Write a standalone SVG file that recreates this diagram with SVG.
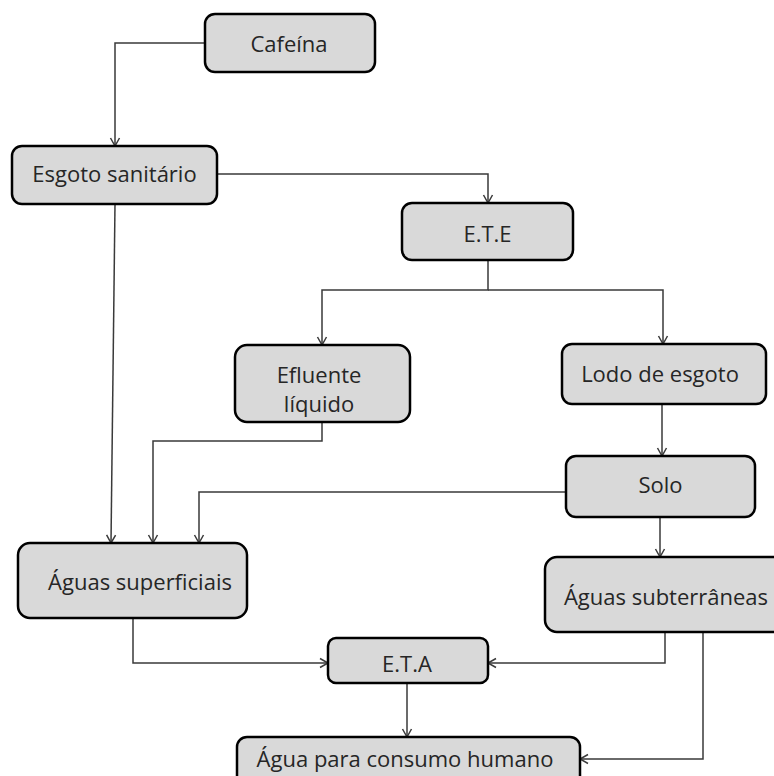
<svg xmlns="http://www.w3.org/2000/svg" width="774" height="776" viewBox="0 0 774 776">
<defs>
<marker id="arr" markerUnits="userSpaceOnUse" markerWidth="12" markerHeight="12" viewBox="0 0 12 12" refX="10" refY="6" orient="auto">
<path d="M2,1.5 L10,6 L2,10.5" fill="none" stroke="#3a3a3a" stroke-width="1.5"/>
</marker>
<style>
.box{fill:#d9d9d9;stroke:#000;stroke-width:2.5}
.lbl{font-family:"Open Sans","Noto Sans",sans-serif;font-size:22px;fill:#262626;text-anchor:middle}
.con{fill:none;stroke:#3a3a3a;stroke-width:1.5;marker-end:url(#arr)}
.con0{fill:none;stroke:#3a3a3a;stroke-width:1.5}
</style>
</defs>
<rect width="774" height="776" fill="#fff"/>
<g id="connectors">
<path class="con" d="M205,43 H115 V146"/>
<path class="con" d="M217,174 H488 V203"/>
<path class="con" d="M488,260 V290 H322 V345"/>
<path class="con" d="M488,290 H663 V344"/>
<path class="con" d="M115,204 L111,543"/>
<path class="con" d="M322,422 V441 H153 V543"/>
<path class="con" d="M662,404 V456"/>
<path class="con" d="M566,492 H199 V543"/>
<path class="con" d="M660,517 V557"/>
<path class="con" d="M133,618 V663 H328"/>
<path class="con" d="M665,632 V663 H488"/>
<path class="con" d="M407,683 V737"/>
<path class="con" d="M703,632 V759 H580"/>
</g>
<g id="cafeina"><rect class="box" x="205" y="14" width="170" height="58" rx="10"/><text class="lbl" x="289" y="52">Cafeína</text></g>
<g id="esgoto"><rect class="box" x="12" y="146" width="205" height="58" rx="10"/><text class="lbl" x="114.5" y="182">Esgoto sanitário</text></g>
<g id="ete"><rect class="box" x="402" y="203" width="171" height="57" rx="10"/><text class="lbl" x="487.5" y="242">E.T.E</text></g>
<g id="efluente"><rect class="box" x="235" y="345" width="175" height="77" rx="12"/><text class="lbl" x="319" y="383">Efluente</text><text class="lbl" x="319" y="412">líquido</text></g>
<g id="lodo"><rect class="box" x="562" y="344" width="204" height="60" rx="10"/><text class="lbl" x="660" y="382">Lodo de esgoto</text></g>
<g id="solo"><rect class="box" x="566" y="456" width="189" height="61" rx="10"/><text class="lbl" x="660.5" y="493">Solo</text></g>
<g id="aguas-superficiais"><rect class="box" x="18" y="543" width="229" height="75" rx="12"/><text class="lbl" x="140" y="590">Águas superficiais</text></g>
<g id="aguas-subterraneas"><rect class="box" x="545" y="557" width="240" height="75" rx="12"/><text class="lbl" x="666" y="605">Águas subterrâneas</text></g>
<g id="eta"><rect class="box" x="328" y="638" width="160" height="45" rx="8"/><text class="lbl" x="407" y="672">E.T.A</text></g>
<g id="agua-consumo"><rect class="box" x="237" y="737" width="343" height="60" rx="10"/><text class="lbl" x="405" y="767">Água para consumo humano</text></g>
</svg>
